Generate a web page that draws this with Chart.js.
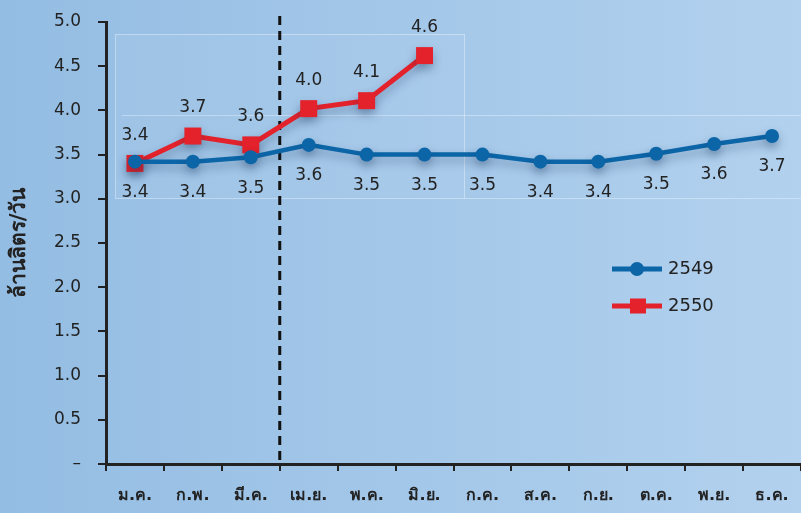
<!DOCTYPE html>
<html>
<head>
<meta charset="utf-8">
<script src="https://cdn.jsdelivr.net/npm/chart.js@4.4.0/dist/chart.umd.min.js"></script>
<style>
  html, body { margin: 0; padding: 0; }
  body { background: linear-gradient(90deg, #94bde3, #b2d1ee); }
  #wrap { width: 801px; height: 513px; position: relative; }
</style>
</head>
<body>
<div id="wrap"><canvas id="chart"></canvas></div>
<script>
// ข้อมูล
const months = ['ม.ค.', 'ก.พ.', 'มี.ค.', 'เม.ย.', 'พ.ค.', 'มิ.ย.', 'ก.ค.', 'ส.ค.', 'ก.ย.', 'ต.ค.', 'พ.ย.', 'ธ.ค.'];
const years = ['2549', '2550'];
const values2549 = [3.42, 3.42, 3.47, 3.61, 3.50, 3.50, 3.50, 3.42, 3.42, 3.51, 3.62, 3.71];
const values2550 = [3.40, 3.71, 3.61, 4.02, 4.11, 4.62];
const yTicks = [0, 0.5, 1.0, 1.5, 2.0, 2.5, 3.0, 3.5, 4.0, 4.5, 5.0];

const BLUE = '#0b65a7';
const RED = '#e3222b';
const INK = '#222222';
const FONT = "'DejaVu Sans', sans-serif";

// พื้นหลังไล่สี + กรอบจางๆ
const backgroundPlugin = {
    id: 'background',
    beforeDraw(chart) {
        const { ctx, width, height } = chart;
        const g = ctx.createLinearGradient(0, 0, width, 0);
        g.addColorStop(0, '#94bde3');
        g.addColorStop(1, '#b2d1ee');
        ctx.save();
        ctx.fillStyle = g;
        ctx.fillRect(0, 0, width, height);
        ctx.fillStyle = 'rgba(255,255,255,0.05)';
        ctx.fillRect(115, 34, 350, 165);
        ctx.strokeStyle = 'rgba(255,255,255,0.35)';
        ctx.lineWidth = 1;
        ctx.strokeRect(115.5, 34.5, 349, 164);
        ctx.beginPath();
        ctx.moveTo(122, 115.5);
        ctx.lineTo(width, 115.5);
        ctx.moveTo(465, 198.5);
        ctx.lineTo(width, 198.5);
        ctx.stroke();
        ctx.restore();
    }
};

// เงาของเส้น
const shadowPlugin = {
    id: 'lineShadow',
    beforeDatasetDraw(chart) {
        const ctx = chart.ctx;
        ctx.save();
        ctx.shadowColor = 'rgba(20, 50, 90, 0.35)';
        ctx.shadowBlur = 10;
        ctx.shadowOffsetY = 5;
    },
    afterDatasetDraw(chart) {
        chart.ctx.restore();
    }
};

// เส้นประแบ่งไตรมาส
const dividerPlugin = {
    id: 'divider',
    beforeDatasetsDraw(chart) {
        const { ctx, scales: { x, y } } = chart;
        const px = (x.getPixelForValue(2) + x.getPixelForValue(3)) / 2;
        ctx.save();
        ctx.strokeStyle = '#111';
        ctx.lineWidth = 3;
        ctx.setLineDash([9, 6]);
        ctx.beginPath();
        ctx.moveTo(px, 16);
        ctx.lineTo(px, y.getPixelForValue(0));
        ctx.stroke();
        ctx.restore();
    }
};

// ป้ายค่าของแต่ละจุด
const valueLabelPlugin = {
    id: 'valueLabels',
    afterDatasetsDraw(chart) {
        const ctx = chart.ctx;
        ctx.save();
        ctx.font = '17px ' + FONT;
        ctx.fillStyle = INK;
        ctx.textAlign = 'center';
        ctx.textBaseline = 'middle';
        chart.data.datasets.forEach((ds, i) => {
            const meta = chart.getDatasetMeta(i);
            meta.data.forEach((pt, j) => {
                const off = i === 0 ? 31 : -28;
                ctx.fillText(ds.data[j].toFixed(1), pt.x, pt.y + off);
            });
        });
        ctx.restore();
    }
};

// คำอธิบายสัญลักษณ์
const legendPlugin = {
    id: 'customLegend',
    afterDraw(chart) {
        const ctx = chart.ctx;
        ctx.save();
        chart.data.datasets.forEach((ds, i) => {
            const cy = 269 + i * 37;
            ctx.strokeStyle = ds.borderColor;
            ctx.lineWidth = 5;
            ctx.beginPath();
            ctx.moveTo(612, cy);
            ctx.lineTo(662, cy);
            ctx.stroke();
            ctx.fillStyle = ds.borderColor;
            if (ds.pointStyle === 'rect') {
                ctx.fillRect(630, cy - 7.5, 16, 15);
            } else {
                ctx.beginPath();
                ctx.arc(637, cy, 7, 0, Math.PI * 2);
                ctx.fill();
            }
            ctx.fillStyle = INK;
            ctx.font = '18px ' + FONT;
            ctx.textBaseline = 'middle';
            ctx.fillText(ds.label, 668, cy);
        });
        ctx.restore();
    }
};

new Chart(document.getElementById('chart'), {
    type: 'line',
    data: {
        labels: months,
        datasets: [
            {
                label: years[0],
                data: values2549,
                borderColor: BLUE,
                backgroundColor: BLUE,
                borderWidth: 4.5,
                pointStyle: 'circle',
                pointRadius: 7,
                pointHoverRadius: 7,
                pointBorderWidth: 0,
                tension: 0
            },
            {
                label: years[1],
                data: values2550,
                borderColor: RED,
                backgroundColor: RED,
                borderWidth: 5,
                pointStyle: 'rect',
                pointRadius: 12,
                pointHoverRadius: 12,
                pointBorderWidth: 0,
                tension: 0
            }
        ]
    },
    options: {
        responsive: true,
        maintainAspectRatio: false,
        animation: false,
        layout: { autoPadding: false, padding: { top: 22, right: 0, left: 0, bottom: 0 } },
        plugins: {
            legend: { display: false },
            tooltip: { enabled: false }
        },
        scales: {
            x: {
                offset: true,
                grid: {
                    offset: true,
                    drawOnChartArea: false,
                    drawTicks: true,
                    tickLength: 7,
                    color: INK,
                    lineWidth: 2
                },
                border: { display: true, color: INK, width: 3 },
                ticks: {
                    color: INK,
                    font: { family: FONT, size: 16, weight: 'bold' },
                    padding: 15,
                    maxRotation: 0,
                    autoSkip: false
                },
                afterFit(scale) {
                    scale.height = 49;
                    scale.paddingLeft = 0;
                    scale.paddingRight = 0;
                }
            },
            y: {
                min: 0,
                max: 5,
                afterBuildTicks(scale) {
                    scale.ticks = yTicks.map(v => ({ value: v }));
                },
                grid: {
                    drawOnChartArea: false,
                    drawTicks: true,
                    tickLength: 8,
                    color: INK,
                    lineWidth: 2
                },
                border: { display: true, color: INK, width: 3 },
                ticks: {
                    color: INK,
                    font: { family: FONT, size: 17 },
                    padding: 17,
                    callback: v => v === 0 ? '–' : v.toFixed(1)
                },
                title: {
                    display: true,
                    text: 'ล้านลิตร/วัน',
                    color: INK,
                    font: { family: FONT, size: 21, weight: 'bold' },
                    padding: { top: 7, bottom: 0 }
                },
                afterFit(scale) {
                    scale.width = 106;
                    scale.paddingTop = 0;
                    scale.paddingBottom = 0;
                }
            }
        }
    },
    plugins: [backgroundPlugin, dividerPlugin, shadowPlugin, valueLabelPlugin, legendPlugin]
});
</script>
</body>
</html>
